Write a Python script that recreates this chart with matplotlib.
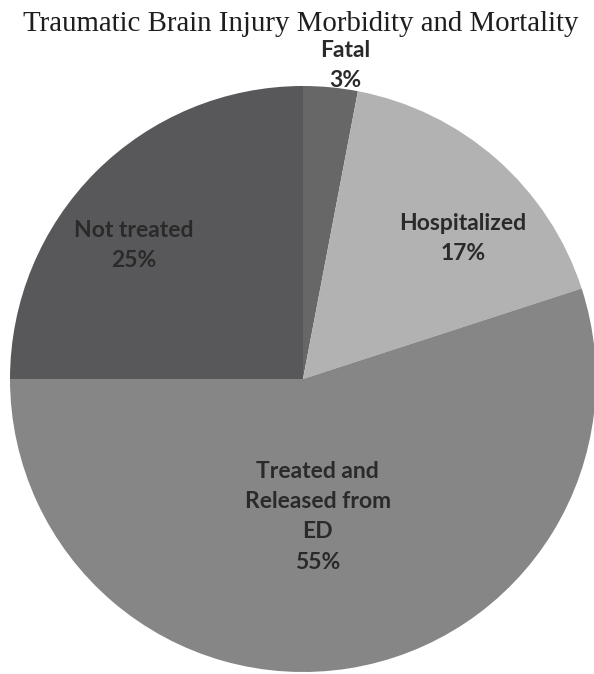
import matplotlib
matplotlib.use("Agg")
import matplotlib.pyplot as plt
import numpy as np

categories = ["Fatal", "Hospitalized", "Treated and\nReleased from\nED", "Not treated"]
percents = [3, 17, 55, 25]
colors = ["#676767", "#b2b2b2", "#868686", "#58585a"]

# label centres in pie units (radius = 1)
label_xy = [(0.145, 1.07), (0.545, 0.48), (0.05, -0.47), (-0.577, 0.455)]

fig = plt.figure(figsize=(5.94, 6.74), dpi=100)
fig.patch.set_facecolor("white")

R_PX = 293
cx, cy = 303, 379
ax = fig.add_axes([(cx - R_PX) / 594, (674 - cy - R_PX) / 674, 2 * R_PX / 594, 2 * R_PX / 674])

ax.pie(percents, colors=colors, startangle=90, counterclock=False, radius=1,
       wedgeprops=dict(linewidth=0))
ax.set_xlim(-1, 1)
ax.set_ylim(-1, 1)
ax.set_aspect("equal")
ax.axis("off")

for name, pct, (x, y) in zip(categories, percents, label_xy):
    ax.text(x, y, f"{name}\n{pct}%", ha="center", va="center", fontsize=16.5,
            family="Lato", fontweight="bold", color="#2a2a2a", linespacing=1.55,
            clip_on=False)

fig.text(301 / 594, 1 - 24 / 674, "Traumatic Brain Injury Morbidity and Mortality",
         ha="center", va="center", family="Liberation Serif", fontsize=20.8, color="#1e1e1e")

fig.savefig("out.png", dpi=100, facecolor="white")
